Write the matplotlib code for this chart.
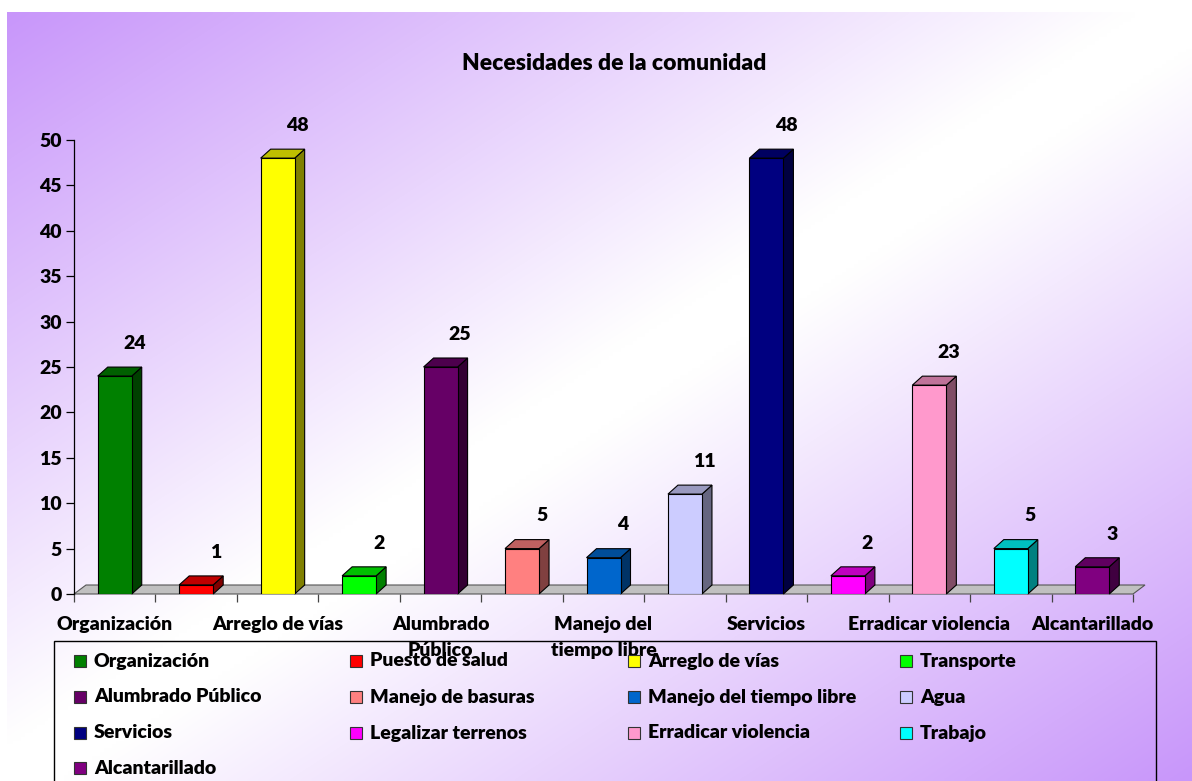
import numpy as np
import matplotlib
matplotlib.use("Agg")
import matplotlib.pyplot as plt
from matplotlib.patches import Polygon, Rectangle
from matplotlib.colors import to_rgb

plt.rcParams['font.family'] = ['Lato', 'DejaVu Sans']
FW = 'heavy'
plt.rcParams['font.weight'] = FW

# ---------------- data ----------------
categories = ["Organización", "Puesto de salud", "Arreglo de vías", "Transporte",
              "Alumbrado Público", "Manejo de basuras", "Manejo del tiempo libre", "Agua",
              "Servicios", "Legalizar terrenos", "Erradicar violencia", "Trabajo",
              "Alcantarillado"]
values = [24, 1, 48, 2, 25, 5, 4, 11, 48, 2, 23, 5, 3]
colors = ["#008000", "#ff0000", "#ffff00", "#00ff00", "#660066", "#ff8080", "#0066cc",
          "#ccccff", "#000080", "#ff00ff", "#ff99cc", "#00ffff", "#800080"]
tick_labels = ["Organización", "Arreglo de vías", "Alumbrado\nPúblico",
               "Manejo del\ntiempo libre", "Servicios", "Erradicar violencia",
               "Alcantarillado"]
yticks = [0, 5, 10, 15, 20, 25, 30, 35, 40, 45, 50]
title = "Necesidades de la comunidad"

W, H = 1192, 781
fig = plt.figure(figsize=(W / 100, H / 100), dpi=100)
fig.patch.set_facecolor("white")

def fx(px):
    return px / W

def fy(py):
    return 1 - py / H

# ---------------- background gradient ----------------
bx0, by0 = 7, 12
bg = fig.add_axes([fx(bx0), 0, 1 - fx(bx0), fy(by0)], zorder=0)
nx, ny = 300, 200
xx, yy = np.meshgrid(np.linspace(0, 1, nx), np.linspace(0, 1, ny))
t = (xx + yy) / 2
w = 1 - np.abs(2 * t - 1)
w = np.clip(w * 1.05, 0, 1)
purple = np.array(to_rgb("#c896fa"))
white = np.array([1.0, 1.0, 1.0])
img = purple[None, None, :] * (1 - w[..., None]) + white[None, None, :] * w[..., None]
bg.imshow(img, aspect="auto", origin="upper", interpolation="bilinear")
bg.set_axis_off()

# ---------------- main axes ----------------
ax_l, ax_r = 74, 1133
ax_t, ax_b = 140, 594
ax = fig.add_axes([fx(ax_l), fy(ax_b), fx(ax_r - ax_l), (ax_b - ax_t) / H], zorder=1)
ax.set_facecolor("none")
n = len(values)
ax.set_xlim(-0.5, n - 0.5)
ax.set_ylim(0, 50)

upx = n / (ax_r - ax_l)            # data x per pixel
upy = 50 / (ax_b - ax_t)           # data y per pixel
dx, dy = 10 * upx, 9 * upy
bw = 34 * upx

# floor
fdx, fdy = 12 * upx, 9 * upy
floor = Polygon([(-0.5, 0), (n - 0.5, 0), (n - 0.5 + fdx, fdy), (-0.5 + fdx, fdy)],
                closed=True, facecolor="#c0c0c0", edgecolor="#555555", lw=0.8,
                zorder=2, clip_on=False)
ax.add_patch(floor)

def shade(c, f):
    return tuple(np.array(to_rgb(c)) * f)

for i, (v, c) in enumerate(zip(values, colors)):
    x0, x1 = i - bw / 2, i + bw / 2
    side = Polygon([(x1, 0), (x1 + dx, dy), (x1 + dx, v + dy), (x1, v)], closed=True,
                   facecolor=shade(c, 0.5), edgecolor="black", lw=0.8, zorder=3, clip_on=False)
    top = Polygon([(x0, v), (x1, v), (x1 + dx, v + dy), (x0 + dx, v + dy)], closed=True,
                  facecolor=shade(c, 0.75), edgecolor="black", lw=0.8, zorder=3, clip_on=False)
    ax.add_patch(side)
    ax.add_patch(top)
    ax.bar(i, v, width=bw, color=c, edgecolor="black", linewidth=0.8, zorder=4)
    ax.text(i + 0.24, v + 3.6, str(v), ha="center", va="center", fontsize=14,
            fontweight=FW, color="black", zorder=5, clip_on=False)

# axes styling
for s in ["top", "right", "bottom"]:
    ax.spines[s].set_visible(False)
ax.spines["left"].set_color("black")
ax.spines["left"].set_linewidth(0.9)
ax.set_yticks(yticks)
ax.set_yticklabels([str(v) for v in yticks], fontsize=14, fontweight=FW)
ax.tick_params(axis="y", length=6, width=0.9, direction="out", pad=3)

ax.set_xticks(np.arange(-0.5, n, 1.0))
ax.set_xticklabels([])
ax.tick_params(axis="x", which="major", length=6, width=0.9, color="#444444", direction="out")
ax.set_xticks(np.arange(0, n, 2), minor=True)
ax.set_xticklabels(tick_labels, minor=True, fontsize=14, fontweight=FW, linespacing=1.6)
ax.tick_params(axis="x", which="minor", length=0, pad=16)
for lbl in ax.get_xticklabels(minor=True):
    lbl.set_verticalalignment("top")

fig.text(fx(614), fy(64), title, ha="center", va="center", fontsize=16.5, fontweight=FW)

# ---------------- legend ----------------
lg = Rectangle((fx(54), fy(800)), fx(1156 - 54), (800 - 641) / H, transform=fig.transFigure,
               facecolor="none", edgecolor="black", lw=1.0, zorder=6, clip_on=False)
fig.patches.append(lg)
col_x = [74, 350, 628, 900]
row_y = [661, 697, 733, 768]
for k in range(n):
    r, cidx = k // 4, k % 4
    mx, my = col_x[cidx], row_y[r]
    sq = Rectangle((fx(mx), fy(my + 6)), fx(12), 12 / H, transform=fig.transFigure,
                   facecolor=colors[k], edgecolor="#333333", lw=0.8, zorder=7)
    fig.patches.append(sq)
    fig.text(fx(mx + 20), fy(my), categories[k], ha="left", va="center",
             fontsize=14, fontweight=FW, zorder=7)

fig.savefig("out.png", dpi=100)
